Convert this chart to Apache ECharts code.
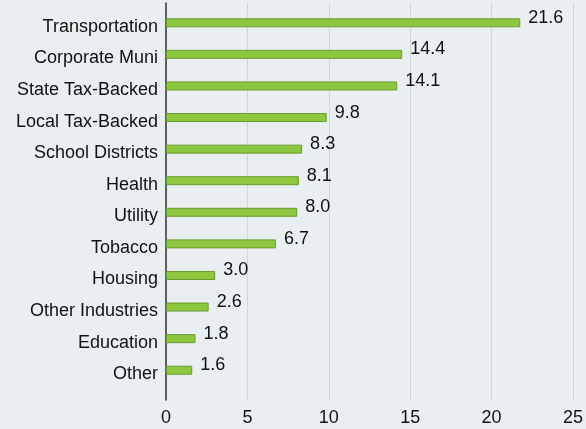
<!DOCTYPE html>
<html>
<head>
<meta charset="utf-8">
<script src="https://cdn.jsdelivr.net/npm/echarts@6/dist/echarts.min.js"></script>
<style>
  html, body { margin: 0; padding: 0; background: #e9eef1; }
  #main { width: 586px; height: 429px; }
</style>
</head>
<body>
<div id="main"></div>
<script>
const categories = [
  'Transportation', 'Corporate Muni', 'State Tax-Backed', 'Local Tax-Backed',
  'School Districts', 'Health', 'Utility', 'Tobacco', 'Housing',
  'Other Industries', 'Education', 'Other'
];
const values = [21.6, 14.4, 14.1, 9.8, 8.3, 8.1, 8.0, 6.7, 3.0, 2.6, 1.8, 1.6];
const xTicks = [0, 25, 5]; // min, max, interval

const font = 'Arial, "Liberation Sans", sans-serif';
const chart = echarts.init(document.getElementById('main'));

const option = {
  backgroundColor: '#e9eef1',
  animation: false,
  grid: [
    { left: 166, right: 10, top: 7, height: 379 },   // bars
    { left: 166, right: 10, top: 3, bottom: 29 }     // gridlines + ticks
  ],
  xAxis: [
    { gridIndex: 0, type: 'value', min: xTicks[0], max: xTicks[1], interval: xTicks[2], show: false },
    {
      gridIndex: 1, type: 'value', min: xTicks[0], max: xTicks[1], interval: xTicks[2],
      axisLine: { show: false },
      axisTick: { show: false },
      axisLabel: { fontSize: 18, color: '#111', fontFamily: font, margin: 9 },
      splitLine: { show: true, lineStyle: { color: '#d2d6da', width: 1 } }
    }
  ],
  yAxis: [
    {
      gridIndex: 0, type: 'category', data: categories, inverse: true,
      axisLine: { show: false },
      axisTick: { show: false },
      axisLabel: {
        margin: 8,
        formatter: v => '{c|' + v + '}',
        rich: {
          c: { fontSize: 18, color: '#111', fontFamily: font, padding: [8, 0, 0, 0] }
        }
      }
    },
    {
      gridIndex: 1, type: 'value', min: 0, max: 1,
      axisLine: { show: true, lineStyle: { color: '#333', width: 1.5 } },
      axisTick: { show: false },
      axisLabel: { show: false },
      splitLine: { show: false }
    }
  ],
  series: [
    {
      type: 'bar',
      xAxisIndex: 0,
      yAxisIndex: 0,
      data: values,
      barWidth: 9,
      itemStyle: { color: '#8dc63f', borderColor: '#6b9b2f', borderWidth: 1 },
      label: {
        show: true,
        position: 'right',
        distance: 8,
        offset: [0, -5],
        fontSize: 18,
        color: '#111',
        fontFamily: font,
        formatter: p => p.value.toFixed(1)
      }
    }
  ]
};
chart.setOption(option);
</script>
</body>
</html>
